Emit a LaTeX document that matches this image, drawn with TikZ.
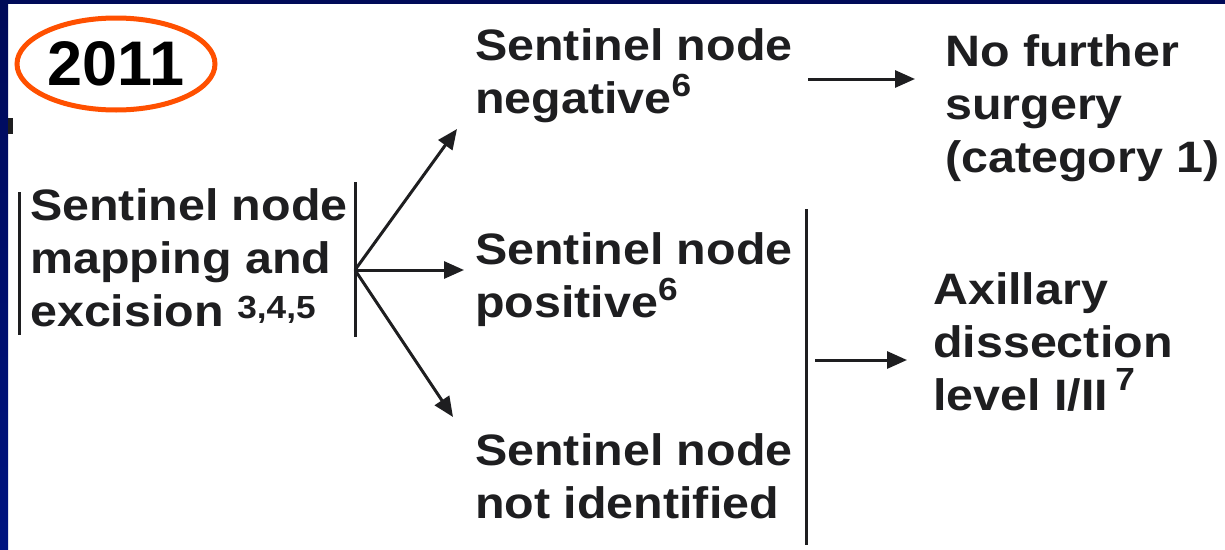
\documentclass[tikz,border=0pt]{standalone}
\usepackage{fontspec}
\newfontfamily\diagfont[FakeStretch=1.1]{Liberation Sans}
\newfontfamily\yearfont{Liberation Sans}
\usetikzlibrary{arrows.meta,shapes.geometric}
\definecolor{slidenavy}{RGB}{0,10,88}
\definecolor{slideblue}{RGB}{0,20,128}
\definecolor{ringorange}{RGB}{255,80,0}
\definecolor{ink}{RGB}{30,30,32}
% #1 = raise, #2 = text
\newcommand{\sups}[2][18]{\raisebox{#1pt}{\fontsize{32}{32}\selectfont #2}}
\tikzset{
  lbl/.style={anchor=base west, inner sep=0pt, align=left, text=ink,
    font=\diagfont\bfseries\fontsize{44}{53}\selectfont},
  arr/.style={draw=ink, line width=3pt, -{Triangle[length=20pt,width=17pt]}},
  bar/.style={draw=ink, line width=3pt},
}
\begin{document}
\begin{tikzpicture}
% 1 unit = 1 px of the slide; label y = baseline of its last line
[x=1pt, y=-1pt]
\useasboundingbox (0,0) rectangle (1225,549);
\fill[white] (0,0) rectangle (1225,549);
% slide frame
\shade[top color=slidenavy, bottom color=slideblue] (0,0) rectangle (8,549);
\fill[slidenavy] (0,0) rectangle (1225,4);
\fill[ink] (8,118) rectangle (13,134);
% year
\node[ellipse, draw=ringorange, line width=5pt, minimum width=198pt, minimum height=92pt,
  inner sep=0pt, text=black, font=\yearfont\bfseries\fontsize{63}{63}\selectfont] (year) at (116,64) {2011};
% procedure
\node[lbl] (map) at (30,326) {Sentinel node\\mapping and\\excision \sups[8]{3,4,5}};
\draw[bar] (19,192) -- (19,335);
\draw[bar] (355,182) -- (355,337);
\coordinate (fork) at (355,270);
% outcomes
\foreach \nm/\y/\txt in {neg/113/{Sentinel node\\negative\sups[17]{6}},
                         pos/317/{Sentinel node\\positive\sups[17]{6}},
                         nid/518/{Sentinel node\\not identified}}{
  \node[lbl] (\nm) at (475,\y) {\txt};
}
\coordinate (tneg) at (457,129);
\coordinate (tpos) at (464,270);
\coordinate (tnid) at (453,417);
\foreach \t in {tneg,tpos,tnid}
  \draw[arr] (fork) -- (\t);
% follow-up
\node[lbl] (nofurther) at (945,172) {No further\\surgery\\(category 1)};
\node[lbl] (axdis) at (933,410) {Axillary\\dissection\\level I/II\,\sups[20]{7}};
\coordinate (negout) at (808,79);
\coordinate (tnofurther) at (915,79);
\draw[arr] (negout) -- (tnofurther);
\draw[bar] (806,209) -- (806,545);
\coordinate (axin) at (815,360);
\coordinate (taxdis) at (907,360);
\draw[arr] (axin) -- (taxdis);
\end{tikzpicture}
\end{document}
